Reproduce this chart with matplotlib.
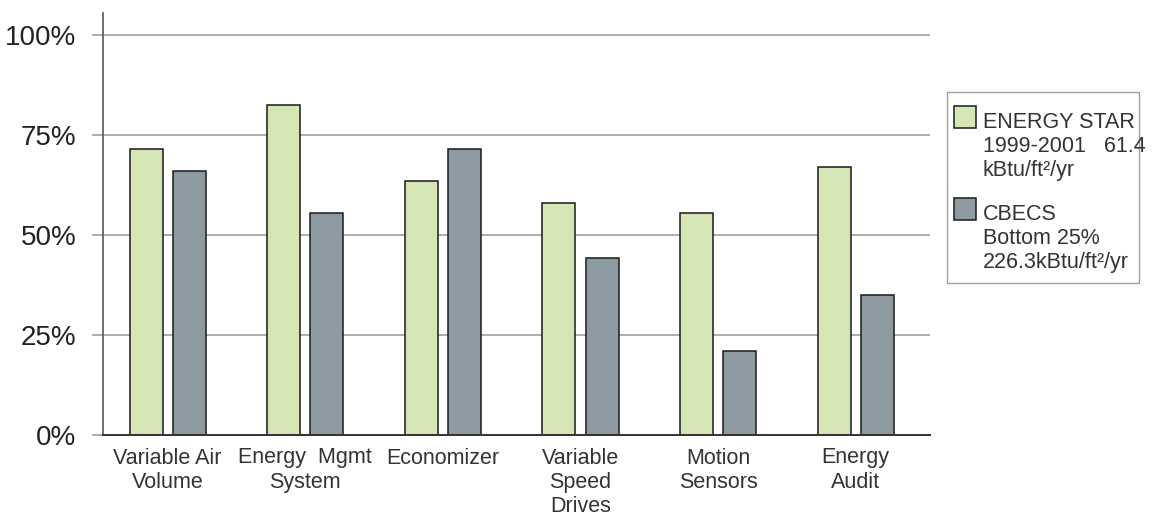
import numpy as np
import matplotlib.pyplot as plt
from matplotlib.patches import Rectangle

plt.rcParams['font.family'] = ['Liberation Sans', 'DejaVu Sans']

categories = ["Variable Air\nVolume", "Energy  Mgmt\nSystem", "Economizer",
              "Variable\nSpeed\nDrives", "Motion\nSensors", "Energy\nAudit"]
energy_star = [71.6, 82.6, 63.5, 58.0, 55.4, 67.0]
cbecs = [65.9, 55.4, 71.6, 44.2, 20.9, 34.9]
series_names = ["ENERGY STAR\n1999-2001   61.4\nkBtu/ft\u00b2/yr",
                "CBECS\nBottom 25%\n226.3kBtu/ft\u00b2/yr"]
yticks = [0, 25, 50, 75, 100]

green = "#d5e5b3"
grey = "#8e9aa2"

W, H = 1152, 519
fig = plt.figure(figsize=(W / 100, H / 100), dpi=100)
ax = fig.add_axes([103 / W, 1 - 435 / H, (930 - 103) / W, (435 - 13) / H])

x = np.arange(len(categories))
bw = 0.24
off = 0.157
ax.bar(x - off, energy_star, bw, color=green, edgecolor="#1a1a1a", linewidth=1.1, zorder=3)
ax.bar(x + off, cbecs, bw, color=grey, edgecolor="#1a1a1a", linewidth=1.1, zorder=3)

ax.set_xlim(-0.47, 5.54)
ax.set_ylim(0, 105.5)
ax.set_yticks(yticks)
ax.set_yticklabels([f"{v}%" for v in yticks])
ax.set_xticks(x)
ax.set_xticklabels(categories)

ax.tick_params(axis="y", direction="out", length=8, width=1.2, color="#a0a0a0",
               labelsize=20, labelcolor="#222222", pad=11)
ax.tick_params(axis="x", length=0, labelsize=15.5, labelcolor="#333333", pad=9)

ax.yaxis.grid(True, color="#a0a0a0", linewidth=1.2, zorder=0)
ax.set_axisbelow(True)
for s in ["top", "right"]:
    ax.spines[s].set_visible(False)
ax.spines["left"].set_color("#555555")
ax.spines["left"].set_linewidth(1.2)
ax.spines["bottom"].set_color("#333333")
ax.spines["bottom"].set_linewidth(1.4)
ax.spines["bottom"].set_zorder(4)


def px(xp, yp):
    return xp / W, 1 - yp / H


# legend drawn by hand so the swatches line up with the first text line
x0, y0 = px(947, 283)
fig.patches.append(Rectangle((x0, y0), (1139 - 947) / W, (283 - 92) / H,
                             transform=fig.transFigure, facecolor="white",
                             edgecolor="#a0a0a0", linewidth=1))
for name, col, top in zip(series_names, [green, grey], [106, 198]):
    hx, hy = px(954, top + 22)
    fig.patches.append(Rectangle((hx, hy), 22 / W, 22 / H, transform=fig.transFigure,
                                 facecolor=col, edgecolor="#1a1a1a", linewidth=1.1))
    tx, ty = px(983, top + 6)
    fig.text(tx, ty, name, ha="left", va="top", fontsize=15.5, color="#333333")

fig.savefig("out.png", dpi=100)
